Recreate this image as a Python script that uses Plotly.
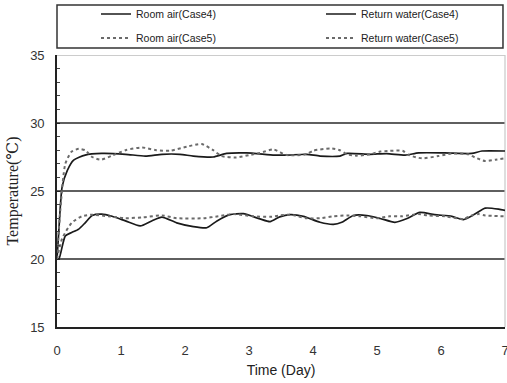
import plotly.graph_objects as go

# ---- data ----
t_room4 = [0, 0.03, 0.13, 0.23, 0.34, 0.44, 0.55, 0.7, 0.86, 1.07, 1.3, 1.48, 1.64, 1.87, 2.13, 2.34, 2.5, 2.7,
           2.91, 3.17, 3.33, 3.48, 3.64, 3.85, 4.11, 4.32, 4.45, 4.63, 4.84, 5.05, 5.28, 5.48, 5.67, 5.9, 6.17,
           6.35, 6.53, 6.69, 6.9, 7.0]
room4 = [20.0, 20.0, 21.7, 21.95, 22.2, 22.66, 23.2, 23.3, 23.14, 22.8, 22.43, 22.8, 23.08, 22.66, 22.38, 22.3,
         22.8, 23.26, 23.33, 22.95, 22.75, 23.1, 23.26, 23.14, 22.7, 22.55, 22.7, 23.2, 23.2, 22.98, 22.7, 23.0,
         23.43, 23.26, 23.14, 22.9, 23.3, 23.74, 23.67, 23.57]

t_room5 = [0, 0.08, 0.23, 0.39, 0.55, 0.8, 1.07, 1.35, 1.64, 1.87, 2.29, 2.52, 2.76, 3.07, 3.33, 3.48, 3.64,
           3.9, 4.11, 4.32, 4.53, 4.74, 5.0, 5.2, 5.39, 5.65, 5.8, 6.06, 6.35, 6.48, 6.59, 6.69, 7.0]
room5 = [20.0, 21.5, 22.66, 23.14, 23.26, 23.14, 23.0, 23.07, 23.2, 23.0, 23.0, 23.14, 23.3, 23.14, 23.1, 23.2,
         23.26, 23.0, 23.0, 23.14, 23.2, 23.14, 23.0, 23.14, 23.14, 23.3, 23.2, 23.14, 22.95, 23.2, 23.3, 23.2,
         23.14]

t_water4 = [0, 0.03, 0.08, 0.16, 0.26, 0.44, 0.7, 1.07, 1.38, 1.64, 1.92, 2.13, 2.44, 2.65, 2.96, 3.4, 3.59,
            3.9, 4.11, 4.42, 4.53, 4.89, 5.15, 5.44, 5.65, 6.06, 6.48, 6.64, 7.0]
water4 = [20.0, 22.2, 25.3, 26.5, 27.27, 27.64, 27.76, 27.7, 27.57, 27.7, 27.7, 27.57, 27.5, 27.76, 27.8, 27.64,
          27.64, 27.7, 27.57, 27.57, 27.76, 27.7, 27.75, 27.64, 27.8, 27.8, 27.76, 27.94, 27.94]

t_water5 = [0, 0.05, 0.13, 0.23, 0.34, 0.44, 0.55, 0.68, 0.86, 1.07, 1.33, 1.55, 1.77, 2.03, 2.26, 2.44, 2.57,
            2.8, 3.0, 3.17, 3.38, 3.59, 3.9, 4.0, 4.27, 4.42, 4.53, 4.68, 4.89, 5.05, 5.2, 5.4, 5.5, 5.7, 5.96,
            6.17, 6.43, 6.53, 6.69, 6.85, 7.0]
water5 = [20.0, 23.5, 27.0, 27.9, 28.1, 28.0, 27.5, 27.3, 27.6, 28.0, 28.2, 28.0, 27.96, 28.26, 28.46, 28.0,
          27.57, 27.47, 27.64, 27.8, 28.06, 27.64, 27.7, 27.96, 28.13, 28.0, 27.7, 27.6, 27.7, 27.9, 27.95, 27.96,
          27.64, 27.4, 27.57, 27.76, 27.7, 27.47, 27.2, 27.3, 27.4]

x_ticks = [0, 1, 2, 3, 4, 5, 6, 7]
y_ticks = [15, 20, 25, 30, 35]
grid_levels = [20, 25, 30]

names = ["Room air(Case4)", "Return water(Case4)", "Room air(Case5)", "Return water(Case5)"]

SOLID = dict(color="#1a1a1a", width=1.7, shape="spline", smoothing=0.6)
DOT = dict(color="#6a6a6a", width=2, dash="dot", shape="spline", smoothing=0.6)

fig = go.Figure()
fig.add_trace(go.Scatter(x=t_room4, y=room4, mode="lines", name=names[0], line=SOLID, legend="legend"))
fig.add_trace(go.Scatter(x=t_water4, y=water4, mode="lines", name=names[1], line=SOLID, legend="legend2"))
fig.add_trace(go.Scatter(x=t_room5, y=room5, mode="lines", name=names[2], line=DOT, legend="legend3"))
fig.add_trace(go.Scatter(x=t_water5, y=water5, mode="lines", name=names[3], line=DOT, legend="legend4"))

shapes = []
for g in grid_levels:
    shapes.append(dict(type="line", xref="x domain", yref="y", x0=0, x1=1, y0=g, y1=g,
                       line=dict(color="#2a2a2a", width=1.6), layer="below"))
# top border (35) lighter, right border light
shapes.append(dict(type="line", xref="x domain", yref="y", x0=0, x1=1, y0=35, y1=35,
                   line=dict(color="#9a9a9a", width=1.2), layer="below"))
shapes.append(dict(type="line", xref="x domain", yref="y domain", x0=1, x1=1, y0=0, y1=1,
                   line=dict(color="#c8c8c8", width=1.2), layer="below"))
# legend frame
shapes.append(dict(type="rect", xref="paper", yref="paper", x0=0.0, x1=0.9955, y0=1.026, y1=1.184,
                   line=dict(color="#333333", width=1.5), fillcolor="rgba(0,0,0,0)"))

W, H = 507, 383


def leg(px, py):
    return dict(orientation="h", xref="container", yref="container",
                x=px / W, y=1 - py / H, xanchor="left", yanchor="middle",
                bgcolor="rgba(0,0,0,0)", borderwidth=0, itemwidth=30,
                font=dict(family="Liberation Sans Narrow, Liberation Sans, Arial", size=10.5, color="#222"))


fig.update_layout(
    width=W, height=H,
    margin=dict(l=57, r=2, t=55, b=56, autoexpand=False),
    paper_bgcolor="white", plot_bgcolor="white",
    showlegend=True,
    legend=leg(96, 14),
    legend2=leg(321, 14),
    legend3=leg(96, 38),
    legend4=leg(321, 38),
    shapes=shapes,
    xaxis=dict(range=[0, 7], tickvals=x_ticks, showgrid=False, zeroline=False, automargin=False,
               showline=True, linecolor="#222", linewidth=1.6, ticks="",
               ticklabeloverflow="allow",
               tickfont=dict(family="Liberation Sans, Arial", size=13, color="#333"),
               ticklabelstandoff=11,
               title=dict(text="Time (Day)", standoff=8,
                          font=dict(family="Liberation Sans, Arial", size=14, color="#222"))),
    yaxis=dict(range=[15, 35], tickvals=y_ticks, showgrid=False, zeroline=False, automargin=False,
               showline=True, linecolor="#222", linewidth=1.6,
               ticks="inside", ticklen=3, tickcolor="#222",
               minor=dict(dtick=1, ticks="inside", ticklen=3, tickcolor="#444"),
               tickfont=dict(family="Liberation Sans, Arial", size=13, color="#333"),
               ticklabelstandoff=8,
               title=dict(text="Temperature(℃)", standoff=8,
                          font=dict(family="Liberation Serif, DejaVu Serif, serif", size=16, color="#222"))),
)

fig.write_html("out.html", config={"displayModeBar": False},
               post_script="document.body.style.margin='0';document.body.style.overflow='hidden';")
